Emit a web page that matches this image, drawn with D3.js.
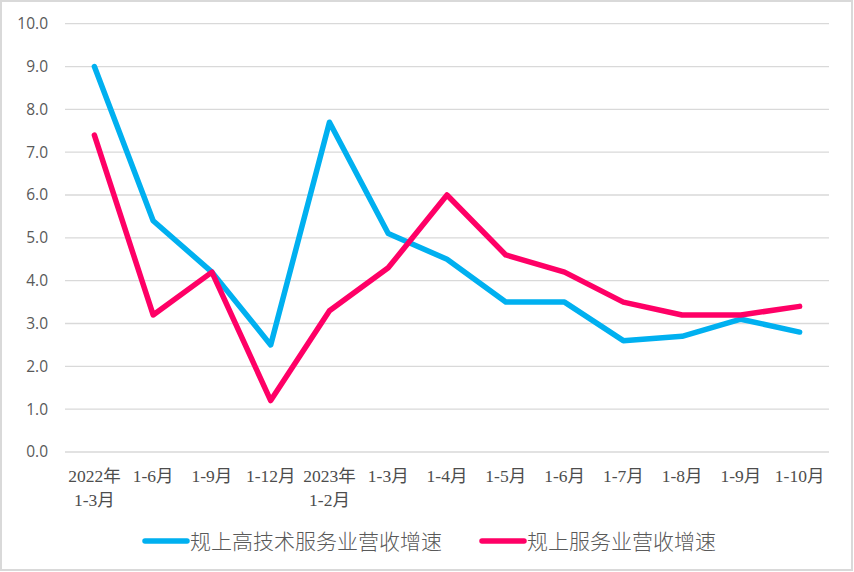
<!DOCTYPE html>
<html><head><meta charset="utf-8">
<script src="https://cdn.jsdelivr.net/npm/d3@7/dist/d3.min.js"></script>
<style>body{margin:0;background:#fff;}svg{display:block;}</style>
</head><body><svg id="c" width="854" height="572"></svg>
<script>
const categories = [["2022年","1-3月"],["1-6月"],["1-9月"],["1-12月"],["2023年","1-2月"],["1-3月"],["1-4月"],["1-5月"],["1-6月"],["1-7月"],["1-8月"],["1-9月"],["1-10月"]];
const highTech = [9.0,5.4,4.2,2.5,7.7,5.1,4.5,3.5,3.5,2.6,2.7,3.1,2.8];
const services = [7.4,3.2,4.2,1.2,3.3,4.3,6.0,4.6,4.2,3.5,3.2,3.2,3.4];
const seriesNames = ["规上高技术服务业营收增速","规上服务业营收增速"];
const seriesColors = ["#00B0F0","#FF0066"];
const yTicks = [0,1,2,3,4,5,6,7,8,9,10];

const svg = d3.select("#c");
svg.append("rect").attr("x",1).attr("y",1).attr("width",851).attr("height",569)
  .attr("fill","#fff").attr("stroke","#d9d9d9").attr("stroke-width",2);

const L=65,R=829,T=23.7,B=452;
const x = d3.scaleBand().domain(d3.range(categories.length)).range([L,R]);
const y = d3.scaleLinear().domain([0,10]).range([B,T]);

const g = svg.append("g");
g.selectAll("line.grid").data(yTicks).join("line").attr("class","grid")
  .attr("x1",L).attr("x2",R).attr("y1",d=>y(d)).attr("y2",d=>y(d))
  .attr("stroke","#d9d9d9").attr("stroke-width",1.3);

const yAxis = g.append("g").attr("transform",`translate(${L},0)`)
  .call(d3.axisLeft(y).tickValues(yTicks).tickFormat(d3.format(".1f")).tickSize(0).tickPadding(17));
yAxis.select(".domain").remove();
yAxis.selectAll("text").attr("font-family","'Open Sans',sans-serif").attr("font-size",15.5).attr("fill","#595959");

const xAxis = g.append("g").attr("transform",`translate(0,${B})`)
  .call(d3.axisBottom(x).tickSize(0).tickFormat(""));
xAxis.select(".domain").remove();
xAxis.selectAll(".tick").each(function(d){
  const t = d3.select(this).append("text").attr("text-anchor","middle")
    .attr("font-family","'Liberation Serif','Noto Sans CJK SC',serif").attr("font-size",17.5).attr("fill","#4d4d4d");
  categories[d].forEach((s,i)=>t.append("tspan").attr("x",0).attr("y",30+i*23.5).text(s));
});

const line = d3.line().x((d,i)=>x(i)+x.bandwidth()/2).y(d=>y(d));
[highTech,services].forEach((s,k)=>{
  g.append("path").datum(s).attr("d",line).attr("fill","none")
    .attr("stroke",seriesColors[k]).attr("stroke-width",5.5)
    .attr("stroke-linejoin","round").attr("stroke-linecap","round");
});

const legendX=[145,482];
seriesNames.forEach((n,k)=>{
  const lg = svg.append("g").attr("transform",`translate(${legendX[k]},541)`);
  lg.append("line").attr("x1",0).attr("x2",42).attr("y1",0).attr("y2",0)
    .attr("stroke",seriesColors[k]).attr("stroke-width",5.5).attr("stroke-linecap","round");
  lg.append("text").attr("x",45).attr("y",8).attr("font-family","'Noto Sans CJK SC',sans-serif")
    .attr("font-size",21).attr("font-weight",300).attr("fill","#595959").text(n);
});
</script></body></html>
